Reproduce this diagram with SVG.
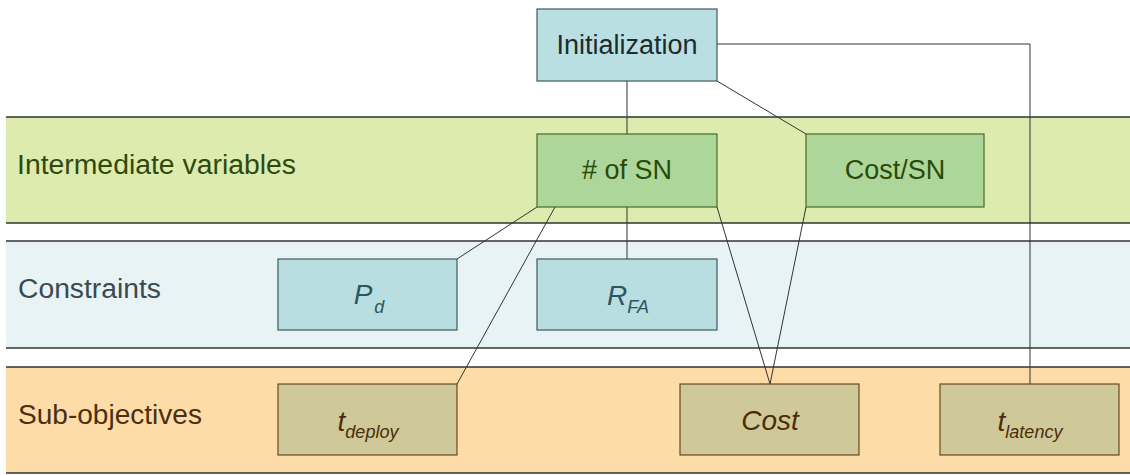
<svg xmlns="http://www.w3.org/2000/svg" width="1130" height="476" viewBox="0 0 1130 476">
  <style>
    text { font-family: "Liberation Sans", Arial, sans-serif; }
    .band-line { stroke: #333333; stroke-width: 1.5; }
    .lane-label { font-size: 27px; }
    .box-label { font-size: 27px; text-anchor: middle; }
    .math { font-style: italic; font-size: 28px; text-anchor: middle; }
    .sub { font-size: 18px; }
    .init { fill: #B9DFE3; stroke: #3F5A5E; stroke-width: 1.2; }
    .mid { fill: #ADD79A; stroke: #4A6A24; stroke-width: 1.2; }
    .con { fill: #B9DEE2; stroke: #3F5A5E; stroke-width: 1.2; }
    .obj { fill: #CFC898; stroke: #6A4A1E; stroke-width: 1.2; }
    .link { fill: none; stroke: #333333; stroke-width: 1; }
  </style>

  <rect width="1130" height="476" fill="#FFFFFF"/>

  <!-- lanes -->
  <g id="lanes">
    <rect x="6" y="117" width="1124" height="106" fill="#DEEBAE"/>
    <line class="band-line" x1="6" y1="117" x2="1130" y2="117"/>
    <line class="band-line" x1="6" y1="223" x2="1130" y2="223"/>
    <text class="lane-label" x="17" y="174" fill="#2E4A0E" textLength="279" lengthAdjust="spacingAndGlyphs">Intermediate variables</text>

    <rect x="6" y="241" width="1124" height="107" fill="#E7F3F5"/>
    <line class="band-line" x1="6" y1="241" x2="1130" y2="241"/>
    <line class="band-line" x1="6" y1="348" x2="1130" y2="348"/>
    <text class="lane-label" x="18" y="298" fill="#3B4A4E" textLength="143" lengthAdjust="spacingAndGlyphs">Constraints</text>

    <rect x="6" y="367" width="1124" height="106" fill="#FDDCA8"/>
    <line class="band-line" x1="6" y1="367" x2="1130" y2="367"/>
    <line class="band-line" x1="6" y1="473" x2="1130" y2="473"/>
    <text class="lane-label" x="18" y="424" fill="#4A3010" textLength="184" lengthAdjust="spacingAndGlyphs">Sub-objectives</text>
  </g>

  <!-- connectors -->
  <g id="connectors">
    <line class="link" x1="627" y1="81" x2="627" y2="134"/>
    <line class="link" x1="717" y1="81" x2="806" y2="134" stroke="#555555"/>
    <polyline class="link" points="717,44 1030,44 1030,384"/>
    <line class="link" x1="537" y1="207" x2="457" y2="259" stroke="#555555"/>
    <line class="link" x1="555" y1="207" x2="457" y2="384" stroke="#555555"/>
    <line class="link" x1="627" y1="207" x2="627" y2="259"/>
    <line class="link" x1="717" y1="207" x2="770" y2="384"/>
    <line class="link" x1="806" y1="207" x2="770" y2="384"/>
  </g>

  <g id="initialization">
    <rect class="init" x="537" y="9" width="180" height="72"/>
    <text class="box-label" x="627" y="54" fill="#1E2A2C">Initialization</text>
  </g>

  <g id="num-sn">
    <rect class="mid" x="537" y="134" width="180" height="73"/>
    <text class="box-label" x="627" y="179" fill="#2A4A0A"># of SN</text>
  </g>

  <g id="cost-per-sn">
    <rect class="mid" x="806" y="134" width="178" height="73"/>
    <text class="box-label" x="895" y="179" fill="#2A4A0A">Cost/SN</text>
  </g>

  <g id="pd">
    <rect class="con" x="278" y="259" width="179" height="71"/>
    <text class="math" x="369" y="304" fill="#2E5560">P<tspan class="sub" dx="2" dy="9">d</tspan></text>
  </g>

  <g id="rfa">
    <rect class="con" x="537" y="259" width="180" height="71"/>
    <text class="math" x="628" y="305" fill="#2E5560">R<tspan class="sub" dy="8">FA</tspan></text>
  </g>

  <g id="t-deploy">
    <rect class="obj" x="278" y="384" width="179" height="71"/>
    <text class="math" x="368" y="431" fill="#4A2E0A">t<tspan class="sub" dy="7">deploy</tspan></text>
  </g>

  <g id="cost">
    <rect class="obj" x="680" y="384" width="179" height="71"/>
    <text class="math" x="770" y="430" fill="#4A2E0A">Cost</text>
  </g>

  <g id="t-latency">
    <rect class="obj" x="940" y="384" width="179" height="71"/>
    <text class="math" x="1030" y="431" fill="#4A2E0A">t<tspan class="sub" dy="7">latency</tspan></text>
  </g>
</svg>
